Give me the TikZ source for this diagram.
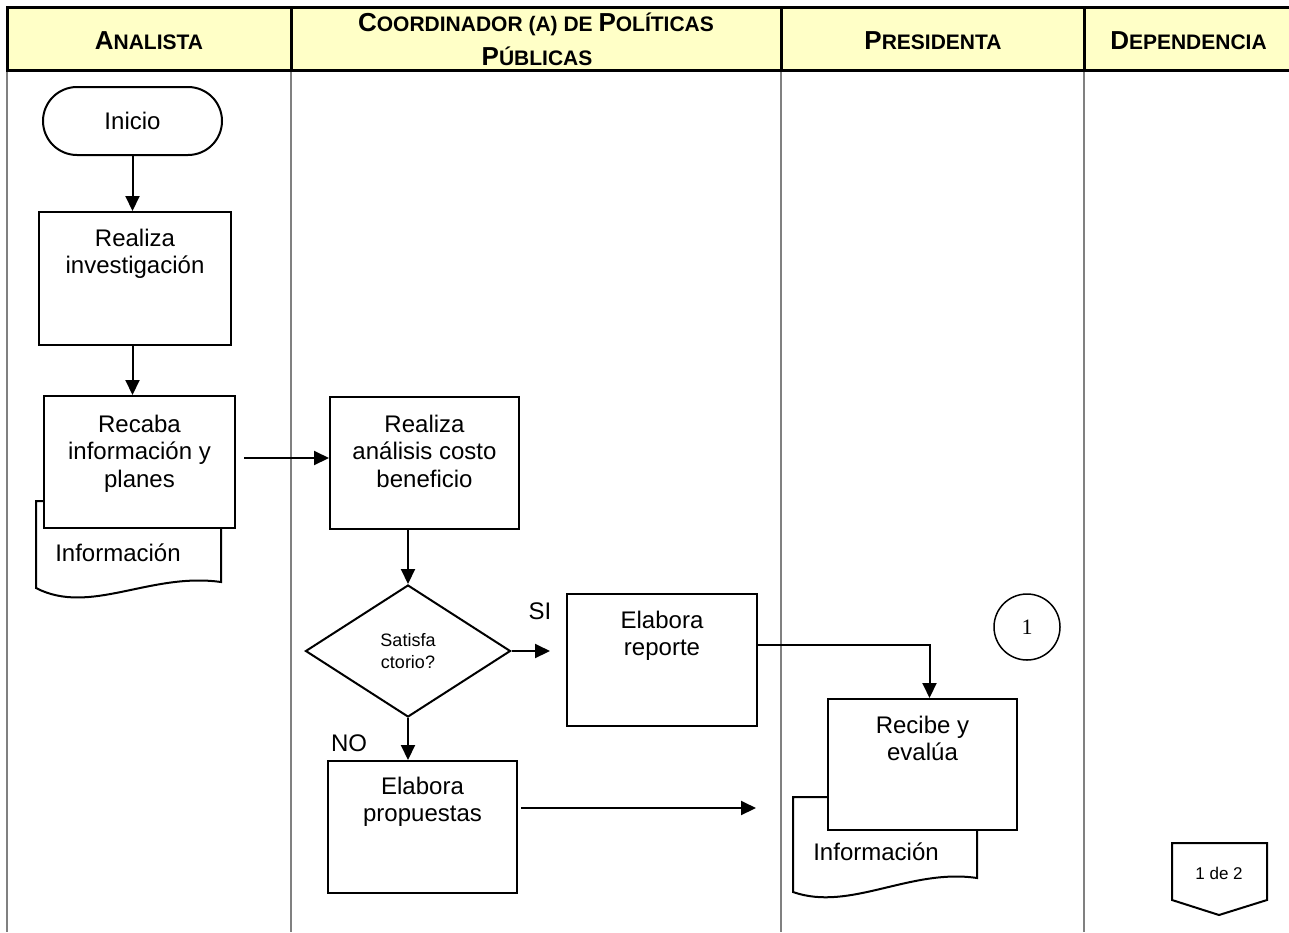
\documentclass[tikz,border=0pt]{standalone}
\usepackage{fontspec}
\setmainfont{Liberation Sans}
\newfontfamily\numfont{Liberation Serif}
\usetikzlibrary{arrows.meta,shapes.geometric,calc}
\definecolor{headyellow}{RGB}{255,255,199}
\definecolor{lanegray}{RGB}{128,128,128}
% fake small caps for the lane titles
\newcommand\capbig[1]{{\fontsize{26}{30}\selectfont #1}}
\newcommand\capsmall[1]{{\fontsize{21}{25}\selectfont #1}}
% text block placed at the top of a process box
\newcommand\boxtxt[4]{\parbox[c][#2pt][t]{#1pt}{\centering\rule{0pt}{#3pt}#4}}
\begin{document}
\begin{tikzpicture}[x=1pt,y=-1pt,
  font=\fontsize{24}{27.5}\selectfont,
  procbox/.style={draw, line width=2pt, fill=white, inner sep=0pt},
  flow/.style={line width=2pt, -{Triangle[length=15pt,width=14pt]}},
  lane/.style={lanegray, line width=2pt},
  headline/.style={black, line width=3pt},
  headtext/.style={anchor=base, inner sep=0pt, font=\bfseries}
]
\useasboundingbox (0,0) rectangle (1289,932);
\clip (0,0) rectangle (1289,932);

% swimlane header
\fill[headyellow] (7,7.5) rectangle (1300,70.5);
\draw[lane] (7,70.5) -- (7,932);
\draw[lane] (291,70.5) -- (291,932);
\draw[lane] (781,70.5) -- (781,932);
\draw[lane] (1084,70.5) -- (1084,932);
\draw[headline] (7,7.5) rectangle (1300,70.5);
\draw[headline] (291,7.5) -- (291,70.5);
\draw[headline] (781,7.5) -- (781,70.5);
\draw[headline] (1084,7.5) -- (1084,70.5);

\node[headtext] (hA) at (149,49) {\capbig{A}\capsmall{NALISTA}};
\node[headtext] (hC1) at (536,31.7) {\capbig{C}\capsmall{OORDINADOR (A) DE }\capbig{P}\capsmall{OLÍTICAS}};
\node[headtext] (hC2) at (537,65) {\capbig{P}\capsmall{ÚBLICAS}};
\node[headtext] (hP) at (933,49) {\capbig{P}\capsmall{RESIDENTA}};
\node[headtext] (hD) at (1188.5,49) {\capbig{D}\capsmall{EPENDENCIA}};

% document shapes behind the boxes
\draw[line width=2pt, fill=white] (36,588) -- (36,501) -- (221,501) -- (221,582)
  .. controls (150,572) and (90,616) .. (36,588) -- cycle;
\draw[line width=2pt, fill=white] (793,892) -- (793,797) -- (977,797) -- (977,878)
  .. controls (910,868) and (850,912) .. (793,892) -- cycle;
\node (docA) at (118,553) {Información};
\node (docB) at (876,852) {Información};

% flow nodes
\node[draw, line width=2pt, rounded corners=34pt, minimum width=179pt,
  minimum height=68pt, inner sep=0pt] (ini) at (132.5,121) {Inicio};
\node[procbox] (ri) at (135,278.5) {\boxtxt{192}{133}{34}{Realiza\\investigación}};
\node[procbox] (rec) at (139.5,462) {\boxtxt{191}{132}{36}{Recaba\\información y\\planes}};
\node[procbox] (ana) at (424.5,463) {\boxtxt{189}{132}{35}{Realiza\\análisis costo\\beneficio}};
\node[draw, line width=2pt, diamond, minimum width=205pt, minimum height=132pt,
  inner sep=0pt, align=center, font=\fontsize{18}{21.5}\selectfont] (dia) at (408,651) {Satisfa\\ctorio?};
\node[procbox] (rep) at (662,660) {\boxtxt{190}{132}{34}{Elabora\\reporte}};
\node[procbox] (rcb) at (922.5,764.5) {\boxtxt{189}{131}{34}{Recibe y\\evalúa}};
\node[procbox] (prop) at (422.5,827) {\boxtxt{189}{132}{33}{Elabora\\propuestas}};

\node (si) at (540,611) {SI};
\node (no) at (349,743) {NO};

% on-page connector
\node[draw, circle, line width=1.5pt, minimum size=66pt, inner sep=0pt,
  font=\numfont\fontsize{22}{24}\selectfont] (con1) at (1027,627) {1};

% off-page connector
\draw[line width=2pt] (1172,843) -- (1267,843) -- (1267,900) -- (1219,915) -- (1172,900) -- cycle;
\node[font=\fontsize{17}{20}\selectfont] (pg) at (1219,873) {1 de 2};

% connectors
\coordinate (siend) at (550,651);
\coordinate (propend) at (756,808);
\draw[flow] (ini.south) -- (ini.south |- ri.north);
\draw[flow] (ini.south |- ri.south) -- (ini.south |- rec.north);
\draw[flow, shorten <=8pt] ([yshift=4pt]rec.east) -- ([yshift=4pt]rec.east -| ana.west);
\draw[flow] (dia.north |- ana.south) -- (dia.north);
\draw[flow] (dia.east) -- (siend);
\draw[flow] (dia.south) -- (dia.south |- prop.north);
\draw[flow] ([yshift=15pt]rep.east) -| ([xshift=7pt]rcb.north);
\draw[flow, shorten <=3pt] ([yshift=19pt]prop.east) -- (propend);
\end{tikzpicture}
\end{document}
